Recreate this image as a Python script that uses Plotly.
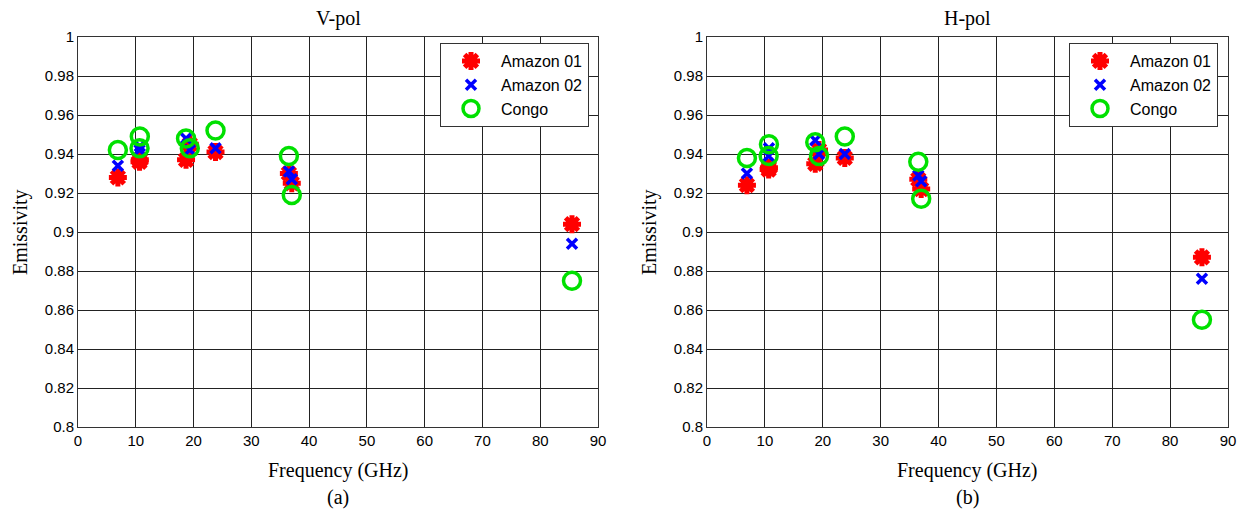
import plotly.graph_objects as go

# ---- data ----
freq = [6.9, 10.65, 10.7, 18.7, 19.35, 23.8, 36.5, 37.0, 85.5]

v_amazon01 = [0.928, 0.936, 0.937, 0.937, 0.945, 0.941, 0.930, 0.925, 0.904]
v_amazon02 = [0.934, 0.942, 0.944, 0.948, 0.942, 0.943, 0.931, 0.927, 0.894]
v_congo    = [0.942, 0.943, 0.949, 0.948, 0.943, 0.952, 0.939, 0.919, 0.875]

h_amazon01 = [0.924, 0.932, 0.933, 0.935, 0.942, 0.938, 0.927, 0.922, 0.887]
h_amazon02 = [0.930, 0.939, 0.943, 0.947, 0.940, 0.940, 0.929, 0.926, 0.876]
h_congo    = [0.938, 0.939, 0.945, 0.946, 0.939, 0.949, 0.936, 0.917, 0.855]

series_names = ["Amazon 01", "Amazon 02", "Congo"]
x_ticks = [0, 10, 20, 30, 40, 50, 60, 70, 80, 90]
y_ticks = [0.8, 0.82, 0.84, 0.86, 0.88, 0.9, 0.92, 0.94, 0.96, 0.98, 1.0]
y_tick_text = ["0.8", "0.82", "0.84", "0.86", "0.88", "0.9", "0.92", "0.94", "0.96", "0.98", "1"]
titles = ["V-pol", "H-pol"]
sublabels = ["(a)", "(b)"]
x_title = "Frequency (GHz)"
y_title = "Emissivity"

# page has an 8px body margin: build the figure 8px smaller and offset coordinates
OFF = 8
W, H = 1248 - OFF, 516 - OFF


def px_x(v):
    return (v - OFF) / W


def px_y(v):
    return 1 - (v - OFF) / H


styles = [
    dict(symbol="asterisk-open", size=15, color="red", line=dict(color="red", width=5)),
    dict(symbol="x-thin-open", size=10, color="blue", line=dict(color="blue", width=3.5)),
    dict(symbol="circle-open", size=17, color="#00E000", line=dict(color="#00E000", width=3.5)),
]

fig = go.Figure()
panels = [
    (v_amazon01, v_amazon02, v_congo),
    (h_amazon01, h_amazon02, h_congo),
]
xdomains = [(px_x(78), px_x(598)), (px_x(707), px_x(1228))]
ydomain = (px_y(427), px_y(37))
legend_names = ["legend", "legend2"]

for p, vals in enumerate(panels):
    xa = "x" if p == 0 else "x2"
    ya = "y" if p == 0 else "y2"
    for s, (name, v) in enumerate(zip(series_names, vals)):
        fig.add_trace(go.Scatter(
            x=freq, y=v, mode="markers", name=name,
            marker=styles[s], xaxis=xa, yaxis=ya,
            legend=legend_names[p], showlegend=True,
        ))

axis_common = dict(
    showgrid=True, gridcolor="#222222", gridwidth=1,
    showline=True, linecolor="#333333", linewidth=1, mirror=True,
    zeroline=False, ticks="", automargin=False,
    tickfont=dict(family="Liberation Sans", size=15, color="black"),
)
legend_common = dict(
    xanchor="left", yanchor="top",
    bgcolor="white", bordercolor="#333333", borderwidth=1,
    font=dict(family="Liberation Sans", size=16, color="black"),
    tracegroupgap=0, itemwidth=50,
)

fig.update_layout(
    width=W, height=H,
    margin=dict(l=0, r=0, t=0, b=0),
    paper_bgcolor="white", plot_bgcolor="white",
    xaxis=dict(domain=xdomains[0], range=[0, 90], tickvals=x_ticks, anchor="y", **axis_common),
    yaxis=dict(domain=ydomain, range=[0.8, 1.0], tickvals=y_ticks, ticktext=y_tick_text, anchor="x", **axis_common),
    xaxis2=dict(domain=xdomains[1], range=[0, 90], tickvals=x_ticks, anchor="y2", **axis_common),
    yaxis2=dict(domain=ydomain, range=[0.8, 1.0], tickvals=y_ticks, ticktext=y_tick_text, anchor="x2", **axis_common),
    legend=dict(x=px_x(440), y=px_y(43), **legend_common),
    legend2=dict(x=px_x(1069), y=px_y(43), **legend_common),
)

serif = dict(family="Liberation Serif", size=20, color="black")
centers = [(78 + 598) / 2, (707 + 1228) / 2]
ylabel_x = [20, 649]
for p in range(2):
    ann = dict(xref="paper", yref="paper", showarrow=False, font=serif,
               xanchor="center", yanchor="middle")
    fig.add_annotation(text=titles[p], x=px_x(centers[p]), y=px_y(19), **ann)
    fig.add_annotation(text=x_title, x=px_x(centers[p]), y=px_y(470), **ann)
    fig.add_annotation(text=sublabels[p], x=px_x(centers[p]), y=px_y(497), **ann)
    fig.add_annotation(text=y_title, x=px_x(ylabel_x[p]), y=px_y(232), textangle=-90, **ann)

fig.write_html("out.html")
